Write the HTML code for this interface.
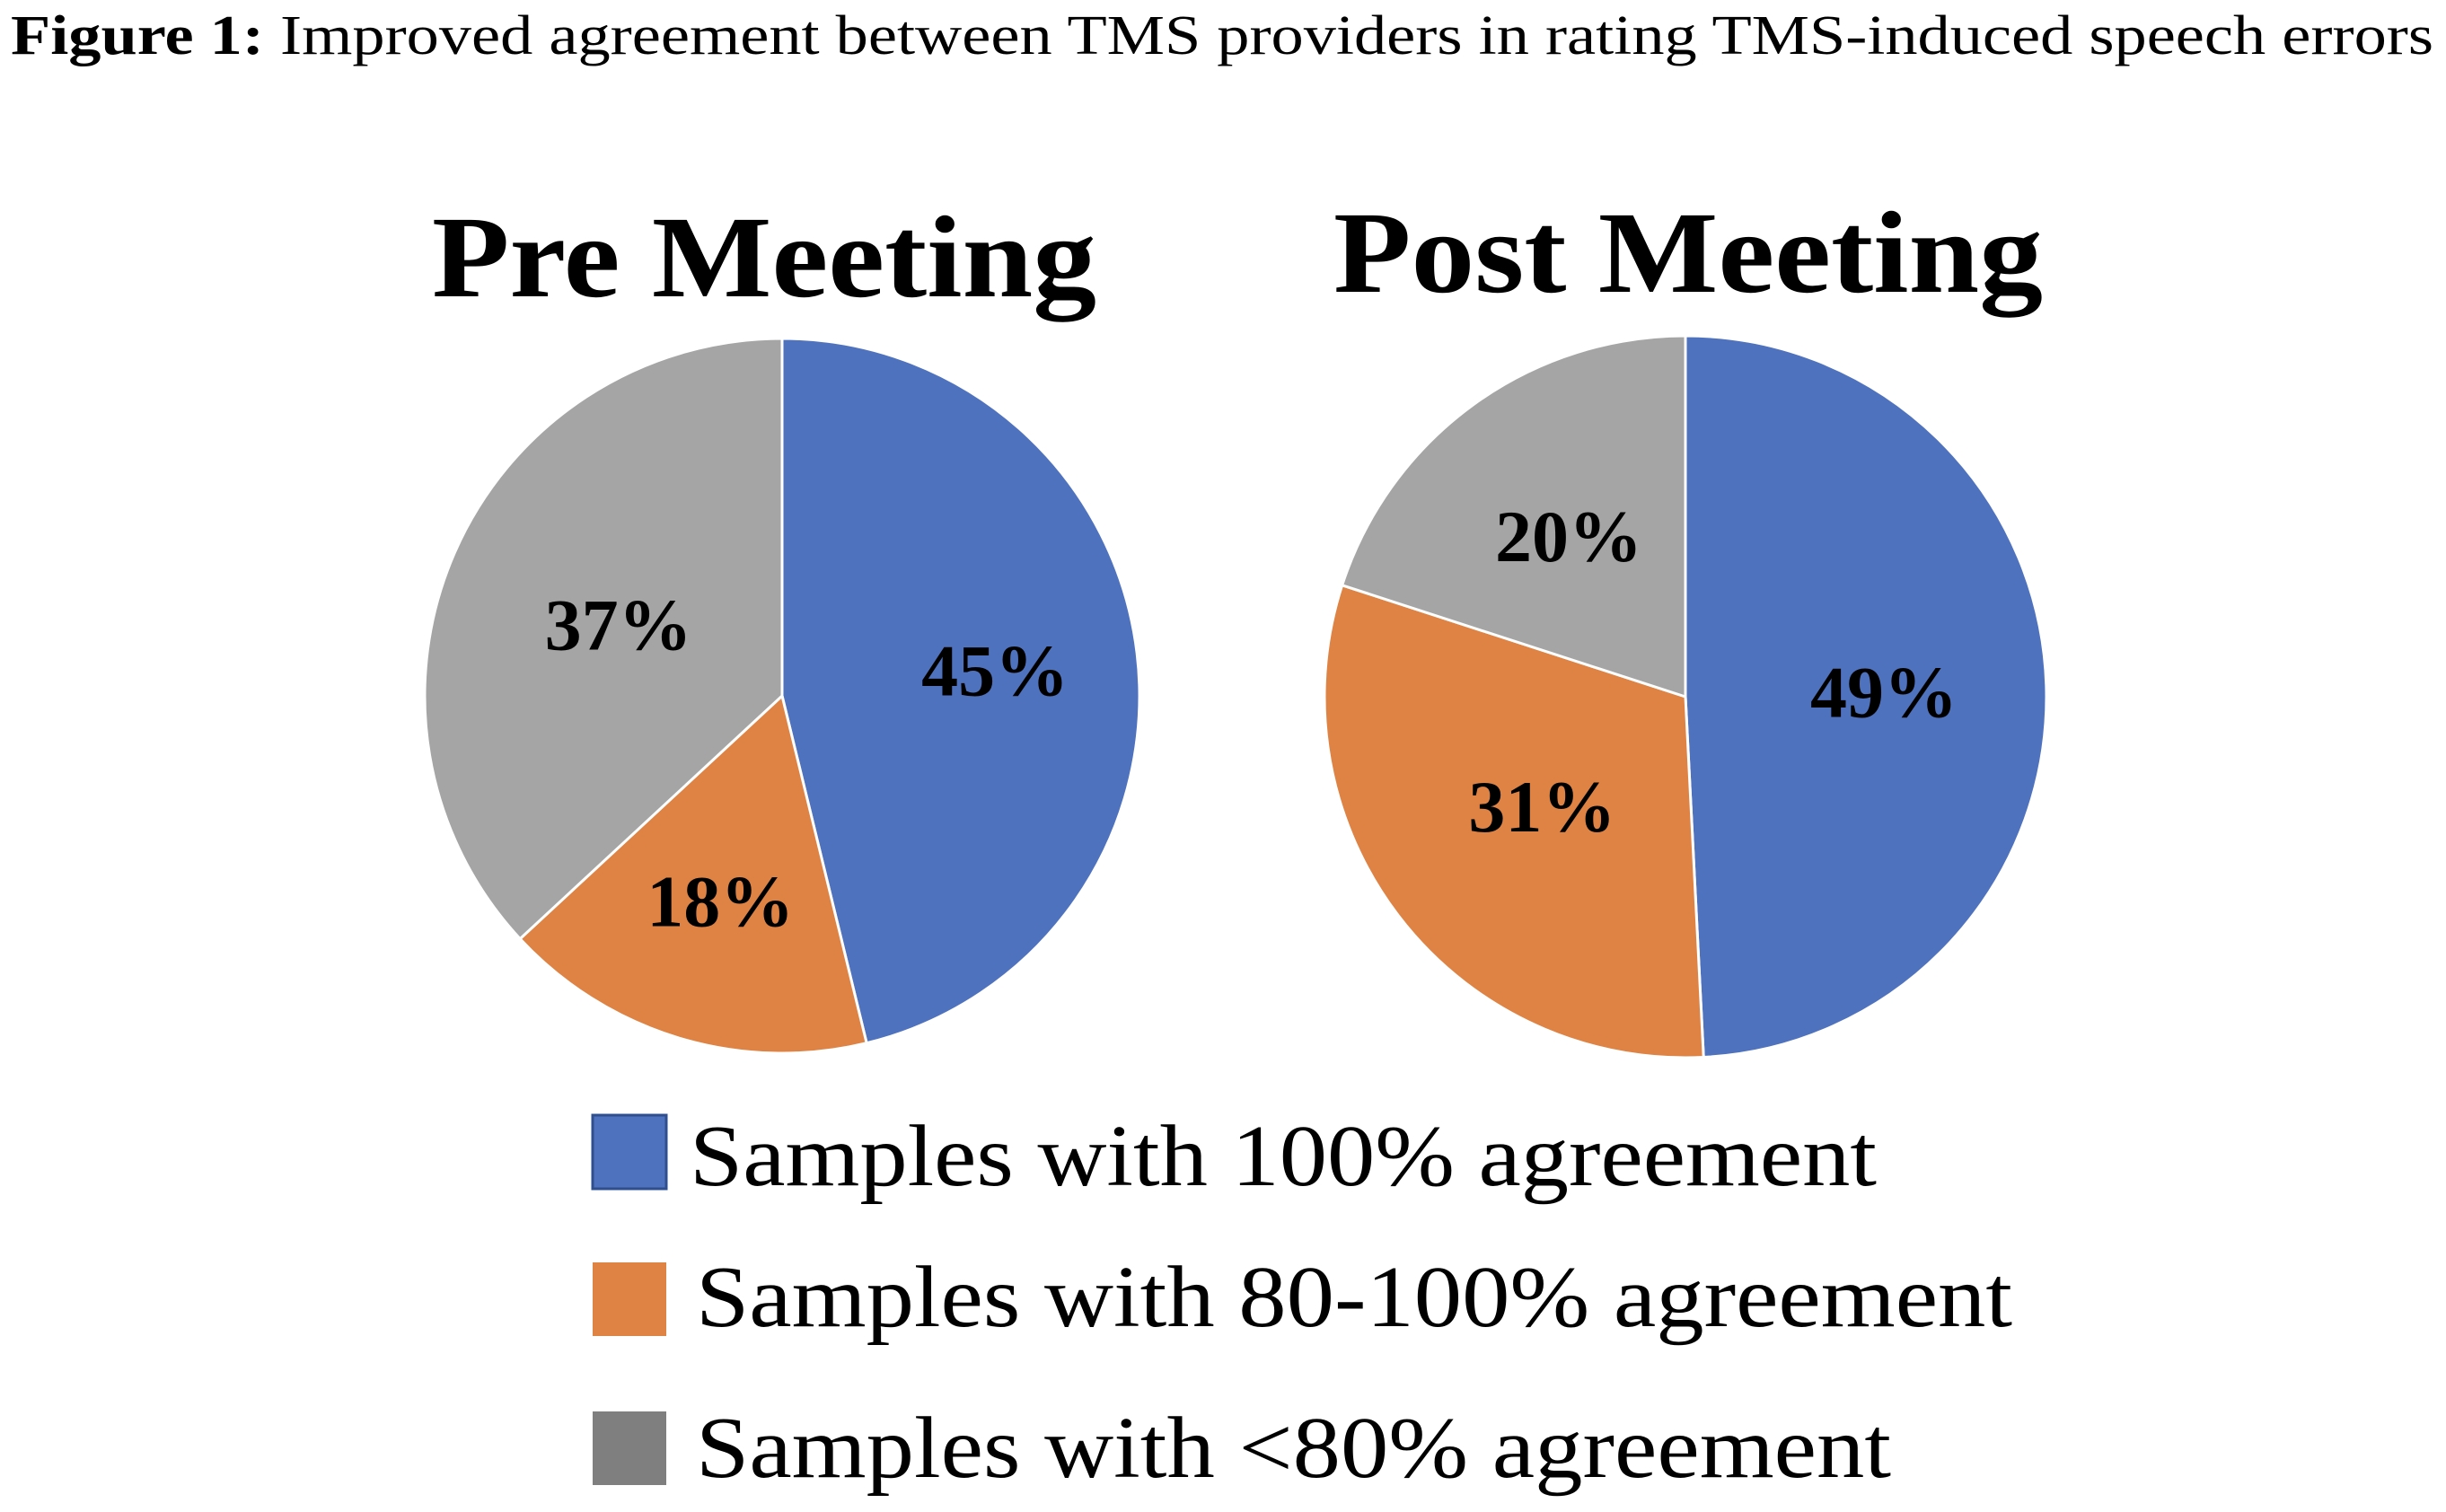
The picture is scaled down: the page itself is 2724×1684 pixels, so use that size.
<!DOCTYPE html>
<html><head><meta charset="utf-8"><style>
body{margin:0;background:#fff;}
svg{display:block;}
text{font-family:"Liberation Serif",serif;}
</style></head><body>
<svg id="chart" width="2724" height="1684" viewBox="0 0 2724 1684">
<text x="12" y="60" font-size="62" fill="#000" textLength="2698" lengthAdjust="spacingAndGlyphs"><tspan font-weight="bold">Figure 1:</tspan> Improved agreement between TMS providers in rating TMS-induced speech errors</text>
<text x="481" y="330" font-size="130" font-weight="bold" textLength="740" lengthAdjust="spacingAndGlyphs">Pre Meeting</text>
<text x="1485" y="325" font-size="130" font-weight="bold" textLength="790" lengthAdjust="spacingAndGlyphs">Post Meeting</text>
<g id="pies"></g>
<g>
<rect x="660" y="1242" width="82" height="82" fill="#4F72BE" stroke="#2F4F8F" stroke-width="3"/>
<text x="768" y="1320" font-size="98" textLength="1322" lengthAdjust="spacingAndGlyphs">Samples with 100% agreement</text>
<rect x="660" y="1406" width="82" height="82" fill="#DE8344"/>
<text x="775" y="1477" font-size="98" textLength="1466" lengthAdjust="spacingAndGlyphs">Samples with 80-100% agreement</text>
<rect x="660" y="1572" width="82" height="82" fill="#7F7F7F"/>
<text x="775" y="1645" font-size="98" textLength="1331" lengthAdjust="spacingAndGlyphs">Samples with &lt;80% agreement</text>
</g>
</svg>
<script>
const categories = ["100% agreement", "80-100% agreement", "<80% agreement"];
const preValues = [46.2, 16.9, 36.9];
const preLabels = ["45%", "18%", "37%"];
const postValues = [49.2, 30.8, 20];
const postLabels = ["49%", "31%", "20%"];
const colors = ["#4F72BE", "#DE8344", "#A5A5A5"];
const ns = "http://www.w3.org/2000/svg";
const g = document.getElementById("pies");
function drawPie(vals, labels, cx, cy, r, name, lf) {
  const total = vals.reduce((a, b) => a + b, 0);
  let a0 = 0;
  vals.forEach((v, i) => {
    const a1 = a0 + v / total * 2 * Math.PI;
    const x0 = cx + r * Math.sin(a0), y0 = cy - r * Math.cos(a0);
    const x1 = cx + r * Math.sin(a1), y1 = cy - r * Math.cos(a1);
    const p = document.createElementNS(ns, "path");
    p.setAttribute("d", `M${cx},${cy} L${x0},${y0} A${r},${r} 0 ${a1 - a0 > Math.PI ? 1 : 0} 1 ${x1},${y1} Z`);
    p.setAttribute("fill", colors[i]);
    p.setAttribute("stroke", "#fff");
    p.setAttribute("stroke-width", "3");
    
    
    g.appendChild(p);
    const am = (a0 + a1) / 2;
    const t = document.createElementNS(ns, "text");
    t.setAttribute("x", cx + lf[i] * r * Math.sin(am));
    t.setAttribute("y", cy - lf[i] * r * Math.cos(am) + 28);
    t.setAttribute("text-anchor", "middle");
    t.setAttribute("font-size", "82");
    t.setAttribute("font-weight", "bold");
    t.textContent = labels[i];
    
    
    g.appendChild(t);
    a0 = a1;
  });
}
drawPie(preValues, preLabels, 871, 775, 398, "pre-pie", [0.6, 0.6, 0.5]);
drawPie(postValues, postLabels, 1877, 776, 402, "post-pie", [0.55, 0.5, 0.55]);
</script>
</body></html>
